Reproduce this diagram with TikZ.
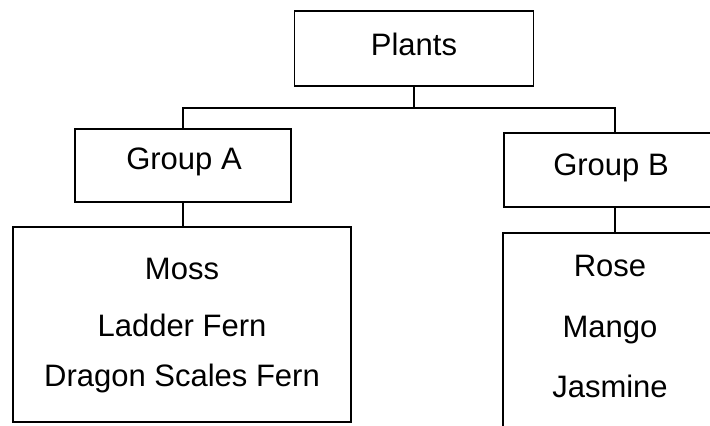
\documentclass[tikz,border=0pt]{standalone}
\usepackage{fontspec}
\setmainfont{Liberation Sans}

\tikzset{
  box/.style={draw, rectangle, line width=1.1pt, inner sep=0pt},
  itemtext/.style={anchor=base, inner sep=0.75pt, font=\fontsize{23.25}{28}\selectfont},
  link/.style={line width=1.1pt}
}

\begin{document}
\begin{tikzpicture}[x=0.75pt,y=0.75pt,yscale=-1,xscale=1]
    \useasboundingbox (0,0) rectangle (710,425);
    \clip (0,0) rectangle (710,425);

    %Shape: Rectangle [id:plants]
    \node[box, minimum width=179.25pt, minimum height=56.25pt] (plants) at (414,48.5) {};
    %Shape: Rectangle [id:grpA]
    \node[box, minimum width=162pt, minimum height=54.75pt] (grpA) at (183,165.5) {};
    %Shape: Rectangle [id:grpB]
    \node[box, minimum width=166.5pt, minimum height=55.5pt] (grpB) at (615,170) {};
    %Shape: Rectangle [id:listA]
    \node[box, minimum width=253.5pt, minimum height=146.25pt] (listA) at (182,324.5) {};
    %Shape: Rectangle [id:listB]
    \node[box, minimum width=168pt, minimum height=150pt] (listB) at (615,333) {};

    %Straight Lines
    \coordinate (split) at (414,108);
    \draw[link] (plants.south) -- (split);
    \draw[link] (split) -| (grpA.north);
    \draw[link] (split) -| (grpB.north);
    \draw[link] (grpA.south) -- (grpA.south |- listA.north);
    \draw[link] (grpB.south) -- (listB.north);

    % Text Node
    \node[itemtext] (plantsText) at (414,55) {Plants};
    % Text Node
    \node[itemtext] (grpAText) at (184,169) {Group A};
    % Text Node
    \node[itemtext] (grpBText) at (611,175) {Group B};
    % Text Node
    \node[itemtext] (moss) at (182,279) {Moss};
    \node[itemtext] (ladder) at (182,336) {Ladder Fern};
    \node[itemtext] (dragon) at (182,386) {Dragon Scales Fern};
    % Text Node
    \node[itemtext] (rose) at (610,276) {Rose};
    \node[itemtext] (mango) at (610,337) {Mango};
    \node[itemtext] (jasmine) at (610,397) {Jasmine};

\end{tikzpicture}
\end{document}
